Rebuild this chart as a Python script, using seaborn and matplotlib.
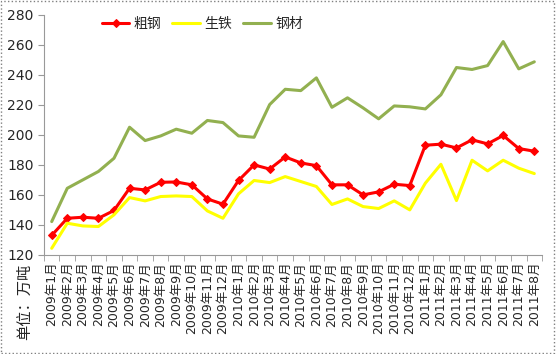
import numpy as np
import pandas as pd
import matplotlib
matplotlib.use("Agg")
import matplotlib.pyplot as plt
import seaborn as sns
from matplotlib.patches import Rectangle

months = ["2009年1月", "2009年2月", "2009年3月", "2009年4月", "2009年5月", "2009年6月",
          "2009年7月", "2009年8月", "2009年9月", "2009年10月", "2009年11月", "2009年12月",
          "2010年1月", "2010年2月", "2010年3月", "2010年4月", "2010年5月", "2010年6月",
          "2010年7月", "2010年8月", "2010年9月", "2010年10月", "2010年11月", "2010年12月",
          "2011年1月", "2011年2月", "2011年3月", "2011年4月", "2011年5月", "2011年6月",
          "2011年7月", "2011年8月"]

crude_steel = [133, 144.4, 145.1, 144.4, 149.6, 164.4, 163.3, 168.4, 168.6, 166.7, 157.3, 153.8,
               169.6, 180, 177.2, 185.3, 181.3, 179.5, 166.7, 166.7, 160, 162, 167.1, 166.2,
               193.1, 193.8, 191.3, 196.7, 194, 199.6, 190.9, 189.1]
pig_iron = [124.4, 141.1, 139.3, 138.9, 146.7, 158.2, 156, 158.9, 159.3, 158.9, 149.3, 144.4,
            160.7, 169.6, 168.2, 172.2, 168.9, 165.6, 153.6, 157.3, 152.2, 150.9, 156, 150,
            167.8, 180.4, 156.2, 183.1, 176, 183.1, 177.8, 174.2]
steel_products = [142.2, 164.4, 170, 175.6, 184.4, 205.1, 196.2, 199.3, 203.8, 201.1, 209.6, 208.2,
                  199.3, 198.4, 220.2, 230.4, 229.5, 238, 218.4, 224.7, 218, 210.7, 219.3, 218.7,
                  217.3, 226.7, 244.9, 243.6, 246.2, 262.2, 244, 248.7]

sns.set_style("white")
plt.rcParams["font.family"] = ["DejaVu Sans", "Noto Sans CJK SC"]

idx = np.arange(len(months))
df = pd.DataFrame({"idx": idx, "粗钢": crude_steel, "生铁": pig_iron, "钢材": steel_products})

fig = plt.figure(figsize=(5.56, 3.54), dpi=100)
ax = fig.add_axes([0.079, 0.280, 0.896, 0.678])

sns.lineplot(data=df, x="idx", y="粗钢", ax=ax, color="#FF0000", lw=2.2,
             marker="D", markersize=4.5, markeredgecolor="#FF0000", label="粗钢")
sns.lineplot(data=df, x="idx", y="生铁", ax=ax, color="#FFFF00", lw=2.2, label="生铁")
sns.lineplot(data=df, x="idx", y="钢材", ax=ax, color="#92B050", lw=2.2, label="钢材")

ax.set_xlim(-0.5, len(months) - 0.5)
ax.set_ylim(120, 280)
ax.set_yticks(range(120, 281, 20))
ax.set_xticks(idx)
ax.set_xticklabels(months, rotation=90, fontsize=9)
ax.set_xticks(np.arange(-0.5, len(months), 1), minor=True)
ax.tick_params(axis="x", which="major", length=0, pad=5)
ax.tick_params(axis="x", which="minor", length=4, color="#999999", direction="out", bottom=True)
ax.tick_params(axis="y", length=4, color="#999999", direction="out", left=True, labelsize=10)
ax.set_xlabel("")
ax.set_ylabel("")

for s in ["top", "right"]:
    ax.spines[s].set_visible(False)
for s in ["left", "bottom"]:
    ax.spines[s].set_color("#999999")
    ax.spines[s].set_linewidth(0.8)

ax.legend(loc="center", bbox_to_anchor=(0.318, 0.962), ncol=3, frameon=False,
          fontsize=10, handlelength=2.0, columnspacing=0.8, handletextpad=0.3)

fig.text(0.045, 0.147, "单位：万吨", rotation=90, ha="center", va="center", fontsize=11,
         family=["Noto Sans CJK SC", "DejaVu Sans"])

fig.patches.append(Rectangle((0.002, 0.003), 0.995, 0.994, transform=fig.transFigure,
                             fill=False, edgecolor="#808080", linestyle=":", lw=1))

fig.savefig("out.png", dpi=100)
